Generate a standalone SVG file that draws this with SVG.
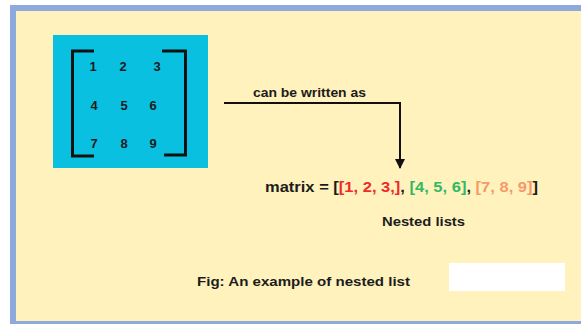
<svg xmlns="http://www.w3.org/2000/svg" width="581" height="324" viewBox="0 0 581 324">
  <style>
    .t { font-family: "Liberation Sans", Arial, sans-serif; font-weight: bold; fill: #1c1c1c; }
    .num { font-size: 13px; text-anchor: middle; }
    .br { fill: none; stroke: #111; stroke-width: 3; }
    .edge { fill: none; stroke: #111; stroke-width: 2; }
  </style>
  <defs>
    <marker id="arrow" viewBox="0 0 10 10" refX="9" refY="5" markerWidth="5" markerHeight="5" orient="auto">
      <path d="M0,0 L10,5 L0,10 z" fill="#111"/>
    </marker>
  </defs>

  <!-- page background and frame -->
  <rect x="0" y="0" width="581" height="324" fill="#ffffff"/>
  <rect x="10" y="5" width="580" height="330" fill="#8ea9db"/>
  <rect x="16" y="11" width="570" height="310" fill="#fff2bd"/>

  <!-- matrix box -->
  <g id="matrix-box">
    <rect x="53" y="35" width="155" height="133" fill="#0ac0e0"/>
    <path class="br" d="M94,51 H72.5 V156 H94"/>
    <path class="br" d="M162,51 H185.5 V155 H164"/>
    <text class="t num" x="93" y="71">1</text>
    <text class="t num" x="123" y="71">2</text>
    <text class="t num" x="157" y="71">3</text>
    <text class="t num" x="94" y="110">4</text>
    <text class="t num" x="124" y="110">5</text>
    <text class="t num" x="153" y="110">6</text>
    <text class="t num" x="94" y="148">7</text>
    <text class="t num" x="124" y="148">8</text>
    <text class="t num" x="153" y="148">9</text>
  </g>

  <!-- connector -->
  <g id="connectors">
    <path class="edge" d="M224,103 H400 V168" marker-end="url(#arrow)"/>
    <text class="t" x="253" y="97" font-size="12.5" textLength="113" lengthAdjust="spacingAndGlyphs">can be written as</text>
  </g>

  <!-- python list -->
  <g id="list-expr">
    <text class="t" x="265" y="192" font-size="14" textLength="273" lengthAdjust="spacingAndGlyphs">matrix = [<tspan fill="#ee2a2a">[1, 2, 3,]</tspan>, <tspan fill="#33b866">[4, 5, 6]</tspan>, <tspan fill="#f59a6a">[7, 8, 9]</tspan>]</text>
    <text class="t" x="382" y="226" font-size="13.5" textLength="83" lengthAdjust="spacingAndGlyphs">Nested lists</text>
  </g>

  <!-- caption -->
  <g id="caption">
    <text class="t" x="197" y="286" font-size="13" textLength="213" lengthAdjust="spacingAndGlyphs">Fig: An example of nested list</text>
    <rect x="449" y="263" width="116" height="28" fill="#ffffff"/>
  </g>
</svg>
